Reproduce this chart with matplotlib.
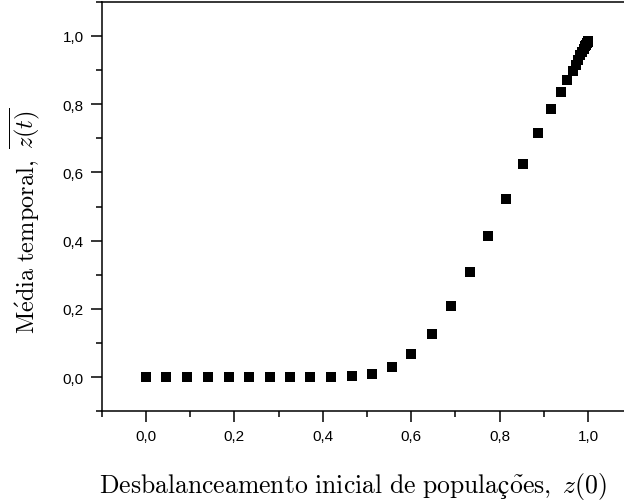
import matplotlib
matplotlib.use('Agg')
import matplotlib.pyplot as plt
from matplotlib.ticker import MultipleLocator, FuncFormatter

plt.rcParams['mathtext.fontset'] = 'cm'

# desbalanceamento inicial z(0) e media temporal de z(t)
z0 = [0.0, 0.046, 0.093, 0.140, 0.187, 0.234, 0.280, 0.326, 0.371, 0.418,
      0.466, 0.511, 0.556, 0.600, 0.646, 0.689, 0.732, 0.774, 0.815, 0.854,
      0.888, 0.916, 0.939, 0.953, 0.965, 0.972, 0.978, 0.983, 0.987, 0.991,
      0.994, 0.996, 0.998, 0.999, 1.0]
zmed = [0.0, 0.0, 0.0, 0.0, 0.0, 0.0, 0.0, 0.0, 0.0, 0.0,
        0.002, 0.009, 0.029, 0.066, 0.125, 0.208, 0.307, 0.414, 0.522, 0.626,
        0.716, 0.785, 0.837, 0.870, 0.897, 0.915, 0.930, 0.943, 0.953, 0.962,
        0.970, 0.975, 0.980, 0.983, 0.986]

fig = plt.figure(figsize=(6.24, 5.02), dpi=100)
ax = fig.add_axes([101.8/624, 1 - 412.1/502, (624 - 101.8)/624, (412.1 - 2.9)/502])

ax.plot(z0, zmed, 's', color='black', ms=7, mec='black', mew=0)

ax.set_xlim(-0.1, -0.1 + (624 - 101.8)/442)
ax.set_ylim(-0.1, 1.1)
ax.spines['right'].set_visible(False)
for s in ['left', 'bottom', 'top']:
    ax.spines[s].set_linewidth(1.1)

ax.xaxis.set_major_locator(MultipleLocator(0.2))
ax.xaxis.set_minor_locator(MultipleLocator(0.1))
ax.yaxis.set_major_locator(MultipleLocator(0.2))
ax.yaxis.set_minor_locator(MultipleLocator(0.1))
comma = FuncFormatter(lambda v, p: ('%.1f' % v).replace('.', ','))
ax.xaxis.set_major_formatter(comma)
ax.yaxis.set_major_formatter(comma)
ax.tick_params(which='major', direction='out', length=8, width=1.1, labelsize=11, pad=5)
ax.tick_params(which='minor', direction='out', length=4, width=1.1)
ax.tick_params(top=False, right=False, which='both')
for lab in ax.get_xticklabels() + ax.get_yticklabels():
    lab.set_family('Liberation Sans')

ax.set_xlabel(r'$\mathrm{Desbalanceamento\ inicial\ de\ populaç\tilde{o}es,}\ z(0)$',
              fontsize=18.5)
ax.set_ylabel(r'$\mathrm{M\acute{e}dia\ temporal,}\ \overline{z(t)}$', fontsize=17.5)
ax.xaxis.set_label_coords(0.481, -0.143)
ax.yaxis.set_label_coords(-0.115, 0.468)

fig.savefig('out.png', dpi=100)
